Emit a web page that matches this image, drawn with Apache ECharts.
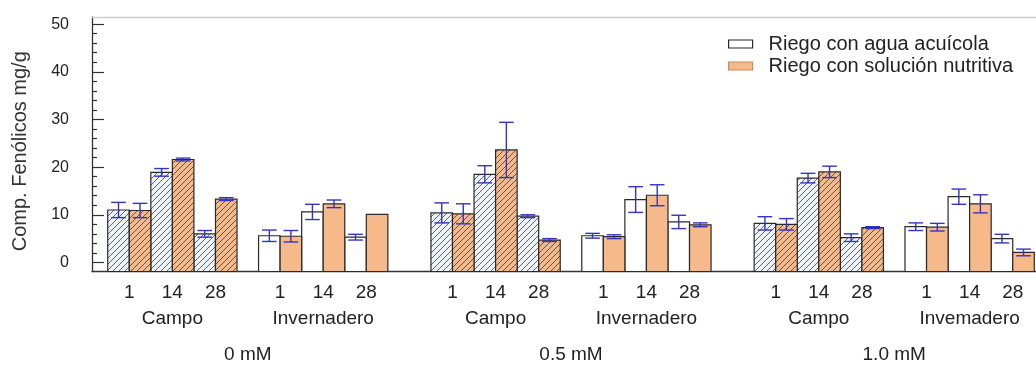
<!DOCTYPE html>
<html><head><meta charset="utf-8">
<script src="https://cdn.jsdelivr.net/npm/echarts@6/dist/echarts.min.js"></script>
<style>html,body{margin:0;padding:0;background:#fff}#c{width:1036px;height:365px}</style>
</head><body><div id="c"></div>
<script>
// ---------- data ----------
const concentrations = ['0 mM', '0.5 mM', '1.0 mM'];
const locations = [['Campo', 'Invernadero'], ['Campo', 'Invernadero'], ['Campo', 'Invemadero']];
const days = ['1', '14', '28'];
const seriesNames = ['Riego con agua acuícola', 'Riego con solución nutritiva'];
// order: concentration -> location -> day
const aquaMean  = [11.0, 18.9, 6.0,   5.6, 10.6, 5.3,   10.4, 18.5, 9.7,   5.6, 13.2, 8.5,   8.2, 17.7, 5.2,   7.5, 13.8, 5.0];
const aquaSd    = [1.6, 0.8, 0.7,     1.2, 1.6, 0.6,    2.1, 1.8, 0.3,     0.5, 2.7, 1.4,    1.4, 1.0, 0.8,    0.8, 1.6, 0.9];
const nutriMean = [10.9, 21.6, 13.3,  5.5, 12.3, 10.1,  10.2, 23.6, 4.7,   5.4, 14.1, 7.9,   8.0, 19.0, 7.3,   7.4, 12.3, 2.1];
const nutriSd   = [1.5, 0.3, 0.3,     1.2, 0.8, 0.0,    2.1, 5.8, 0.3,     0.4, 2.2, 0.4,    1.2, 1.2, 0.2,    0.8, 1.9, 0.7];
const yTickLabels = [0, 10, 20, 30, 40, 50];
const yTitle = 'Comp. Fenólicos mg/g';

// ---------- layout (slot units along x) ----------
const SLOTS_PER_DAY = 2, SLOTS_PER_LOC = 7, SLOTS_PER_CONC = 15;
const X_MIN = -1.23, X_MAX = 42.58, Y_MIN = -1.9, Y_MAX = 51.5;
const GRID = {left: 92, right: 0, top: 17, bottom: 93.5};

const WHITE = '#ffffff', WHITE_H = '#eef3f8', ORANGE = '#F6BA8A', BORDER = '#2a2a2a', ERR = '#3434c4', TXT = '#222';
const FONT = '"Liberation Sans", Arial, sans-serif';

function slotOf(c, l, d, s) { return c * SLOTS_PER_CONC + l * SLOTS_PER_LOC + d * SLOTS_PER_DAY + s; }

function hatchPattern(bg) {
  const n = 6, cv = document.createElement('canvas');
  cv.width = n; cv.height = n;
  const g = cv.getContext('2d');
  g.fillStyle = bg; g.fillRect(0, 0, n, n);
  g.strokeStyle = 'rgba(45,45,45,0.72)'; g.lineWidth = 1;
  g.beginPath();
  g.moveTo(-1, n + 1); g.lineTo(n + 1, -1);
  g.moveTo(-1, 1); g.lineTo(1, -1);
  g.moveTo(n - 1, n + 1); g.lineTo(n + 1, n - 1);
  g.stroke();
  return {image: cv, repeat: 'repeat'};
}
const fills = [WHITE, ORANGE];
const patterns = [hatchPattern(WHITE_H), hatchPattern(ORANGE)];

function buildBars(means, s) {
  const out = [];
  for (let c = 0; c < concentrations.length; c++)
    for (let l = 0; l < 2; l++)
      for (let d = 0; d < days.length; d++) {
        const i = c * 6 + l * 3 + d;
        out.push([slotOf(c, l, d, s), means[i], l]);
      }
  return out;
}
function buildErr(means, sds, s) {
  const out = [];
  for (let c = 0; c < concentrations.length; c++)
    for (let l = 0; l < 2; l++)
      for (let d = 0; d < days.length; d++) {
        const i = c * 6 + l * 3 + d;
        if (sds[i] > 0) out.push([slotOf(c, l, d, s), means[i] - sds[i], means[i] + sds[i]]);
      }
  return out;
}

// label positions
const dayPos = [], dayLab = {}, locPos = [], locLab = {}, concPos = [], concLab = {};
const key = v => Number(v).toFixed(3);
for (let c = 0; c < concentrations.length; c++) {
  const cp = c * SLOTS_PER_CONC + (SLOTS_PER_LOC + 6) / 2 - 0.5;
  concPos.push(cp); concLab[key(cp)] = concentrations[c];
  for (let l = 0; l < 2; l++) {
    const lp = c * SLOTS_PER_CONC + l * SLOTS_PER_LOC + 2.5;
    locPos.push(lp); locLab[key(lp)] = locations[c][l];
    for (let d = 0; d < days.length; d++) {
      const dp = slotOf(c, l, d, 0) + 0.5;
      dayPos.push(dp); dayLab[key(dp)] = days[d];
    }
  }
}
const yMinor = [];
for (let v = 0; v <= 50; v += 2) if (v % 10 !== 0) yMinor.push(v);

function labelAxis(pos, map, offset) {
  return {
    type: 'value', position: 'bottom', min: X_MIN, max: X_MAX, offset: offset,
    axisLine: {show: offset === 0, onZero: false, lineStyle: {color: '#333', width: 1.3}},
    axisTick: {show: false}, splitLine: {show: false},
    axisLabel: {customValues: pos, formatter: v => map[key(v)] || '', color: TXT,
      fontSize: 19, fontFamily: FONT, margin: 12, hideOverlap: false}
  };
}

function barRender(s) {
  return (params, api) => {
    const x = api.value(0), v = api.value(1), hatched = api.value(2) === 0;
    const top = api.coord([x, v]);
    const bot = api.coord([x, Y_MIN]);
    const w = api.size([1, 0])[0];
    return {type: 'rect', shape: {x: top[0] - w / 2, y: top[1], width: w, height: bot[1] - top[1]},
      style: {fill: hatched ? patterns[s] : fills[s], stroke: BORDER, lineWidth: 1.2}};
  };
}

const errRender = (params, api) => {
  const x = api.value(0);
  const top = api.coord([x, api.value(2)]);
  const bot = api.coord([x, api.value(1)]);
  const half = api.size([1, 0])[0] * 0.34;
  const st = {stroke: ERR, lineWidth: 1.4};
  return {type: 'group', children: [
    {type: 'line', shape: {x1: top[0], y1: top[1], x2: bot[0], y2: bot[1]}, style: st},
    {type: 'line', shape: {x1: top[0] - half, y1: top[1], x2: top[0] + half, y2: top[1]}, style: st},
    {type: 'line', shape: {x1: bot[0] - half, y1: bot[1], x2: bot[0] + half, y2: bot[1]}, style: st}
  ]};
};

const chart = echarts.init(document.getElementById('c'), null, {renderer: 'canvas'});
chart.setOption({
  animation: false,
  backgroundColor: '#fff',
  textStyle: {fontFamily: FONT},
  grid: GRID,
  legend: {
    orient: 'vertical', left: 723, top: 29, itemWidth: 24, itemHeight: 8, itemGap: 2,
    icon: 'rect', selectedMode: false,
    textStyle: {fontSize: 20, color: TXT, fontFamily: FONT, padding: [0, 0, 0, 11]},
    data: [
      {name: seriesNames[0], itemStyle: {color: WHITE, borderColor: BORDER, borderWidth: 1.2}},
      {name: seriesNames[1], itemStyle: {color: ORANGE, borderColor: '#c98a5c', borderWidth: 1.2}}
    ]
  },
  xAxis: [
    labelAxis(dayPos, dayLab, 0),
    labelAxis(locPos, locLab, 26),
    labelAxis(concPos, concLab, 62),
    {type: 'value', position: 'top', min: X_MIN, max: X_MAX,
     axisLine: {show: true, onZero: false, lineStyle: {color: '#cfcfcf', width: 1.3}},
     axisTick: {show: false}, axisLabel: {show: false}, splitLine: {show: false}}
  ],
  yAxis: [
    {type: 'value', min: Y_MIN, max: Y_MAX, position: 'left',
     axisLine: {show: true, onZero: false, lineStyle: {color: '#333', width: 1.3}},
     axisTick: {show: true, inside: true, length: 12, customValues: yTickLabels, lineStyle: {color: '#333', width: 1.2}},
     axisLabel: {customValues: yTickLabels, fontSize: 16, color: TXT, fontFamily: FONT, margin: 23},
     splitLine: {show: false},
     name: yTitle, nameLocation: 'middle', nameGap: 62,
     nameTextStyle: {fontSize: 20, color: '#333', fontFamily: FONT, padding: [0, 14, 0, 0]}},
    {type: 'value', min: Y_MIN, max: Y_MAX, position: 'left',
     axisLine: {show: false, onZero: false},
     axisTick: {show: true, inside: true, length: 5, customValues: yMinor, lineStyle: {color: '#333', width: 1.2}},
     axisLabel: {show: false}, splitLine: {show: false}}
  ],
  series: [
    {name: seriesNames[0], type: 'custom', xAxisIndex: 0, yAxisIndex: 0, renderItem: barRender(0),
     itemStyle: {color: WHITE, borderColor: BORDER, borderWidth: 1.2},
     encode: {x: 0, y: 1}, data: buildBars(aquaMean, 0)},
    {name: seriesNames[1], type: 'custom', xAxisIndex: 0, yAxisIndex: 0, renderItem: barRender(1),
     itemStyle: {color: ORANGE, borderColor: BORDER, borderWidth: 1.2},
     encode: {x: 0, y: 1}, data: buildBars(nutriMean, 1)},
    {type: 'custom', xAxisIndex: 0, yAxisIndex: 0, renderItem: errRender, z: 5,
     encode: {x: 0, y: [1, 2]}, data: buildErr(aquaMean, aquaSd, 0).concat(buildErr(nutriMean, nutriSd, 1))}
  ]
});
</script>
</body></html>
